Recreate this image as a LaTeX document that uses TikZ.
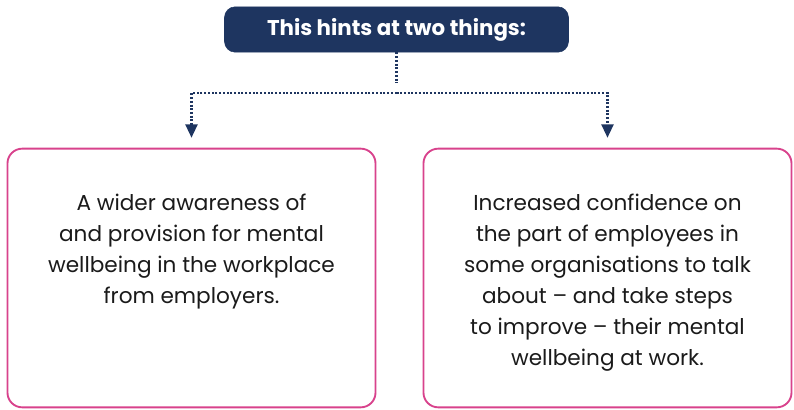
\documentclass[tikz,border=0pt]{standalone}
\usepackage{fontspec}
\setmainfont{Poppins}
\usepackage{xcolor}
\usetikzlibrary{arrows.meta,positioning}
\definecolor{hintnavy}{HTML}{1E3560}
\definecolor{itempink}{HTML}{D8428C}
\definecolor{textdark}{HTML}{1A1A1A}
\tikzset{
  headbox/.style={fill=hintnavy, draw=hintnavy, rounded corners=8pt, text=white, font=\bfseries\fontsize{16}{19}\selectfont, minimum width=258pt, minimum height=34pt, inner sep=0pt},
  itembox/.style={draw=itempink, line width=1.4pt, rounded corners=11pt, minimum width=276pt, minimum height=194pt, inner sep=0pt},
  itemtext/.style={text=textdark, align=center, font=\fontsize{16.2}{23.2}\selectfont, inner sep=0pt},
  connector/.style={hintnavy, line width=1.6pt, dash pattern=on 1.5pt off 1.3pt, -{Triangle[width=9pt,length=10pt]}, shorten >=7.5pt}
}
\begin{document}
\begin{tikzpicture}[x=0.75pt,y=-0.75pt]
  \path[use as bounding box] (0,0) rectangle (794,410);
  % heading and the two items
  \node[headbox] (hint) at (396.5,29.5) {This hints at two things:};
  \node[itembox] (leftbox) at (191.5,278) {};
  \node[itembox] (rightbox) at (607.5,278) {};
  \node[itemtext, anchor=north] (lefttext) at (191.5,194) {A wider awareness of\\and provision for mental\\wellbeing in the workplace\\from employers.};
  \node[itemtext, anchor=north] (righttext) at (607.5,194) {Increased confidence on\\the part of employees in\\some organisations to talk\\about -- and take steps\\to improve -- their mental\\wellbeing at work.};
  % dotted split
  \coordinate (split) at (396.5,93);
  \draw[connector, -] (hint.south) -- (split);
  \draw[connector] (split) -| (leftbox.north);
  \draw[connector] (split) -| (rightbox.north);
\end{tikzpicture}
\end{document}
